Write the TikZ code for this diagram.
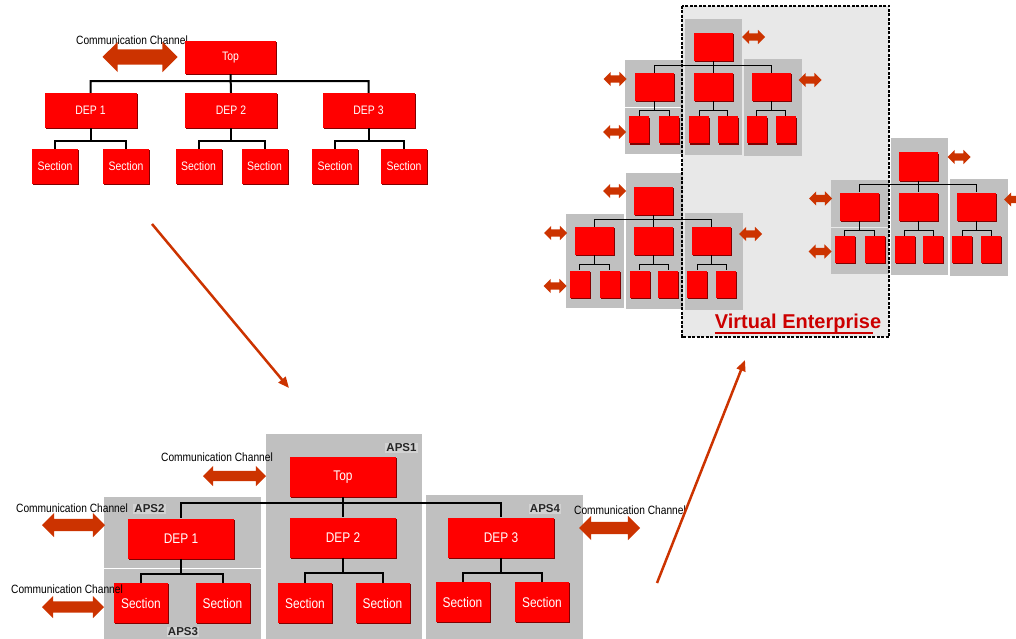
\documentclass[tikz,border=0pt]{standalone}
\usepackage{fontspec}
\setmainfont{Liberation Sans}
\newfontfamily\narrowfont[FakeStretch=0.85]{Liberation Sans}
\usetikzlibrary{shapes.arrows, shadows, arrows.meta}

\definecolor{boxred}{HTML}{FF0000}
\definecolor{boxedge}{HTML}{800000}
\definecolor{chanred}{HTML}{CC3300}
\definecolor{apsgray}{HTML}{C0C0C0}
\definecolor{labgray}{HTML}{D2D2D2}
\definecolor{vegray}{HTML}{E8E8E8}
\definecolor{vered}{HTML}{CC0000}

\begin{document}
\begin{tikzpicture}[x=1pt,y=-1pt,
  box/.style={fill=boxred,inner sep=0pt,text=white,
    drop shadow={fill=boxedge,opacity=1,shadow xshift=1.2pt,shadow yshift=-1.2pt}},
  hdep/.style={box,font=\narrowfont\fontsize{12.3}{14}\selectfont,minimum width=92pt,minimum height=35pt},
  hsec/.style={box,font=\narrowfont\fontsize{12.3}{14}\selectfont,minimum width=46pt,minimum height=35pt},
  adep/.style={box,font=\narrowfont\fontsize{14}{16}\selectfont,minimum width=106pt,minimum height=40pt},
  asec/.style={box,font=\narrowfont\fontsize{14}{16}\selectfont,minimum width=54pt,minimum height=40pt},
  minibox/.style={box,minimum width=39pt,minimum height=28pt},
  minisec/.style={box,minimum width=20pt,minimum height=27pt},
  chan/.style 2 args={double arrow,fill=chanred,inner xsep=0pt,inner ysep=#2/4,
    minimum height=#1,minimum width=#2,double arrow head extend=#2/4},
  chantext/.style={font=\narrowfont\fontsize{12}{14}\selectfont,inner sep=0pt},
  aps/.style={fill=apsgray},
  apslabel/.style={fill=labgray,inner sep=1pt,text=black!85,
    font=\bfseries\fontsize{11.5}{13}\selectfont},
  tree/.style={line width=2pt},
  minitree/.style={line width=1pt},
  flow/.style={draw=chanred,line width=2.5pt,-{Triangle[length=11pt,width=9pt]}},
  pics/minichart/.style={code={
    \fill[aps] (-28,-28) rectangle (29,108);
    \fill[aps] (-88,13) rectangle (-30,60);
    \fill[aps] (-88,60+#1) rectangle (-30,107);
    \fill[aps] (31,12) rectangle (89,109);
    \path (0,0) node[minibox] (-top) {}
      (-59,40) node[minibox] (-d1) {} (0,40) node[minibox] (-d2) {}
      (58,40) node[minibox] (-d3) {};
    \path (-74,83) node[minisec] (-s1) {} (-44,83) node[minisec] (-s2) {}
      (-14,83) node[minisec] (-s3) {} (14.5,83) node[minisec] (-s4) {}
      (43.5,83) node[minisec] (-s5) {} (72.5,83) node[minisec] (-s6) {};
    \draw[minitree] (-top.south) -- ++(0,4) -| (-d1.north)
      (-top.south) -- (-d2.north)
      (-top.south) -- ++(0,4) -| (-d3.north);
    \draw[minitree] (-d1.south) -- ++(0,9.5) -| (-s1.north)
      (-d1.south) -- ++(0,9.5) -| (-s2.north)
      (-d2.south) -- ++(0,9.5) -| (-s3.north)
      (-d2.south) -- ++(0,9.5) -| (-s4.north)
      (-d3.south) -- ++(0,9.5) -| (-s5.north)
      (-d3.south) -- ++(0,9.5) -| (-s6.north);
    \node[chan={23pt}{14pt}] (-cl) at (-98,32) {};
    \node[chan={23pt}{14pt}] (-cs) at (-98.5,85) {};
    \node[chan={23pt}{14pt}] (-cr) at (97,33) {};
  }}]
  \useasboundingbox (0,0) rectangle (1016,639);

  % plain hierarchy
  \node[chantext] (cc1) at (132,40) {Communication Channel};
  \node[chan={75pt}{30pt}] (ch1) at (140,57) {};
  \path (230.5,57.5) node[hdep,minimum width=91pt,minimum height=33pt] (top) {Top}
    (90.5,110.5) node[hdep] (dep1) {DEP 1}
    (231,110.5) node[hdep] (dep2) {DEP 2}
    (368.5,110.5) node[hdep] (dep3) {DEP 3};
  \path (55,166.5) node[hsec] (sec1) {Section} (126,166.5) node[hsec] (sec2) {Section}
    (198.5,166.5) node[hsec] (sec3) {Section} (264.5,166.5) node[hsec] (sec4) {Section}
    (335,166.5) node[hsec] (sec5) {Section} (404,166.5) node[hsec] (sec6) {Section};
  \draw[tree] (top.south) -- ++(0,7) -| (dep1.north)
    (top.south) -- (dep2.north)
    (top.south) -- ++(0,7) -| (dep3.north);
  \draw[tree] (dep1.south) -- ++(0,13) -| (sec1.north)
    (dep1.south) -- ++(0,13) -| (sec2.north)
    (dep2.south) -- ++(0,13) -| (sec3.north)
    (dep2.south) -- ++(0,13) -| (sec4.north)
    (dep3.south) -- ++(0,13) -| (sec5.north)
    (dep3.south) -- ++(0,13) -| (sec6.north);

  % hierarchy split into APS
  \fill[aps] (266,434) rectangle (422,639);
  \fill[aps] (104,497) rectangle (261,568);
  \fill[aps] (104,569) rectangle (261,639);
  \fill[aps] (426,495) rectangle (583,639);
  \node[apslabel] (aps1) at (401.5,448) {APS1};
  \node[apslabel] (aps2) at (149.5,509) {APS2};
  \node[apslabel] (aps3) at (183,632) {APS3};
  \node[apslabel] (aps4) at (545,509) {APS4};
  \path (343,477) node[adep] (atop) {Top}
    (181,538.5) node[adep] (adep1) {DEP 1}
    (343,537.5) node[adep] (adep2) {DEP 2}
    (501,537.5) node[adep] (adep3) {DEP 3};
  \path (141,603) node[asec] (asec1) {Section} (222.5,603) node[asec] (asec2) {Section}
    (305,603) node[asec] (asec3) {Section} (382.5,603) node[asec] (asec4) {Section}
    (462.5,602) node[asec] (asec5) {Section} (542,602) node[asec] (asec6) {Section};
  \draw[tree] (atop.south) -- ++(0,6) -| (adep1.north)
    (atop.south) -- (adep2.north)
    (atop.south) -- ++(0,6) -| (adep3.north);
  \draw[tree] (adep1.south) -- ++(0,15) -| (asec1.north)
    (adep1.south) -- ++(0,15) -| (asec2.north)
    (adep2.south) -- ++(0,15) -| (asec3.north)
    (adep2.south) -- ++(0,15) -| (asec4.north)
    (adep3.south) -- ++(0,15) -| (asec5.north)
    (adep3.south) -- ++(0,15) -| (asec6.north);
  \node[chantext] (cc2) at (217,457) {Communication Channel};
  \node[chantext] (cc3) at (72,508) {Communication Channel};
  \node[chantext] (cc4) at (67,589) {Communication Channel};
  \node[chantext] (cc5) at (630,510) {Communication Channel};
  \node[chan={63pt}{20pt}] (ch2) at (234.5,476) {};
  \node[chan={63pt}{24pt}] (ch3) at (73.5,525) {};
  \node[chan={62pt}{22pt}] (ch4) at (73,607) {};
  \node[chan={61pt}{24pt}] (ch5) at (609.5,528) {};

  % virtual enterprise
  \node[fill=vegray,inner sep=0pt,minimum width=207pt,minimum height=331pt] (vearea) at (785.5,171.5) {};
  \pic (va) at (713,47) {minichart=1};
  \pic (vb) at (653.5,201) {minichart=0};
  \pic (vc) at (918.5,166.5) {minichart=1};
  \node[chan={23pt}{14pt}] (vatop) at (753.5,37) {};
  \node[chan={23pt}{14pt}] (vbtop) at (614.5,191) {};
  \node[chan={23pt}{14pt}] (vctop) at (959,157) {};
  \draw[dash pattern=on 3pt off 1.5pt,line width=1.5pt] (vearea.north west) rectangle (vearea.south east);
  \node[text=vered,inner sep=0pt,font=\bfseries\fontsize{20}{24}\selectfont] (vetext) at (798,323) {Virtual Enterprise};
  \draw[vered,line width=2pt] (vetext.south west) -- ([xshift=-8pt]vetext.south east);

  % flow between the stages
  \coordinate (f1a) at (152,224);
  \coordinate (f1b) at (289,388);
  \coordinate (f2a) at (657,583);
  \coordinate (f2b) at (745,360);
  \draw[flow] (f1a) -- (f1b);
  \draw[flow] (f2a) -- (f2b);
\end{tikzpicture}
\end{document}
